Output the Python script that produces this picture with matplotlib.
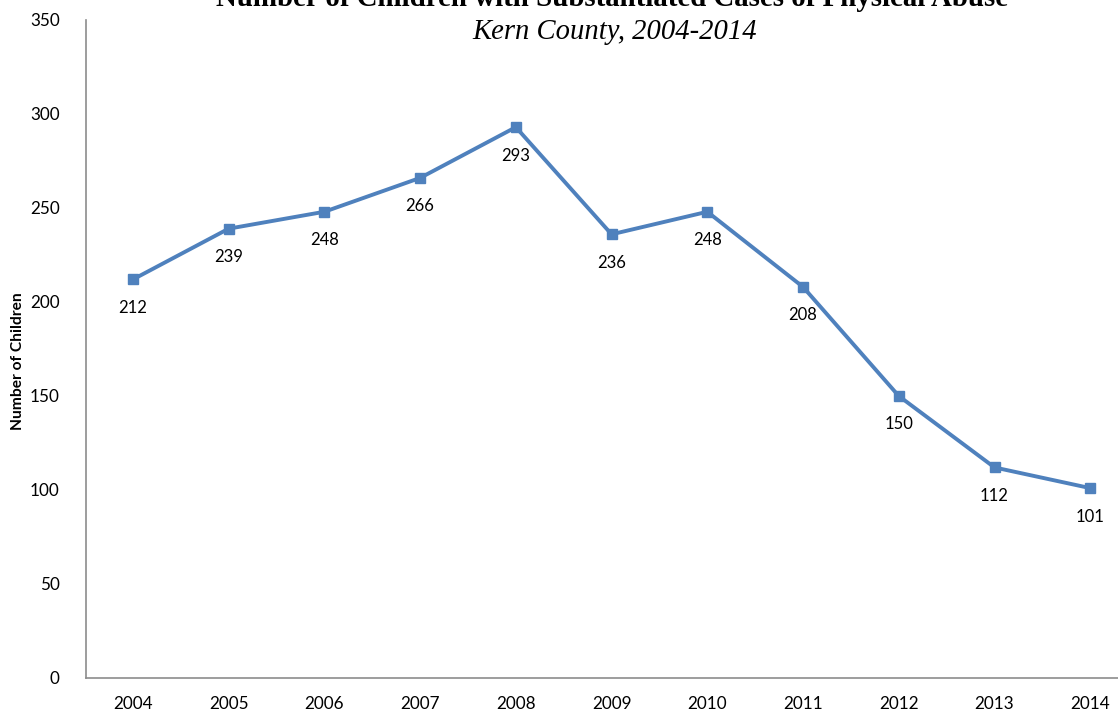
import matplotlib
matplotlib.use("Agg")
import matplotlib.pyplot as plt

years = ["2004", "2005", "2006", "2007", "2008", "2009", "2010", "2011", "2012", "2013", "2014"]
children = [212, 239, 248, 266, 293, 236, 248, 208, 150, 112, 101]
y_ticks = [0, 50, 100, 150, 200, 250, 300, 350]

W, H = 1118, 712
fig = plt.figure(figsize=(W / 100, H / 100), dpi=100)
ax = fig.add_axes([86 / W, 34 / H, 1 - 86 / W, 658 / H])

x = list(range(len(years)))
line_color = "#4F81BD"
ax.plot(x, children, color=line_color, lw=2.8, marker="s", ms=7.5,
        markerfacecolor=line_color, markeredgecolor=line_color, zorder=3)

for xi, v in zip(x, children):
    ax.annotate(str(v), (xi, v), xytext=(0, -20.5), textcoords="offset points",
                ha="center", va="center", fontsize=12, family="Lato", color="#000000")

ax.set_xlim(-0.49, 10.29)
ax.set_ylim(0, 350)
ax.set_xticks(x)
ax.set_xticklabels(years, family="Lato", fontsize=12.3)
ax.set_yticks(y_ticks)
ax.set_yticklabels([str(t) for t in y_ticks], family="Lato", fontsize=12.3)
ax.tick_params(length=0, pad=13)
ax.tick_params(axis="y", pad=19)

for side in ("top", "right"):
    ax.spines[side].set_visible(False)
for side in ("left", "bottom"):
    ax.spines[side].set_color("#8C8C8C")
    ax.spines[side].set_linewidth(1.2)

fig.text(18 / W, 1 - 361 / H, "Number of Children", rotation=90, ha="center", va="center",
         family="Lato", fontweight="bold", fontsize=11.2)

fig.text(612 / W, 1 - 6 / H, "Number of Children with Substantiated Cases of Physical Abuse",
         ha="center", va="baseline", family="Liberation Serif", fontweight="bold", fontsize=20.8)
fig.text(615 / W, 1 - 39 / H, "Kern County, 2004-2014",
         ha="center", va="baseline", family="Liberation Serif", style="italic", fontsize=20.6)

fig.savefig("out.png", dpi=100)
